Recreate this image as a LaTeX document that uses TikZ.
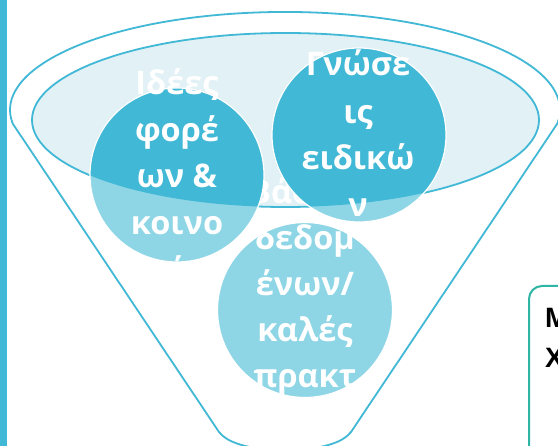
\documentclass[tikz,border=0pt]{standalone}
\usepackage{fontspec}
\newfontfamily\circfont{Open Sans}
\newfontfamily\boxfont{Liberation Sans}
\definecolor{cyanD}{HTML}{41B8D5}
\definecolor{cyanL}{HTML}{8ED6E6}
\definecolor{ellfill}{HTML}{E2F1F6}
\definecolor{tealB}{HTML}{2EB5A3}
\tikzset{
  funnelline/.style={draw=cyanD, line width=1.8pt},
  ctext/.style={text=white, font=\circfont\bfseries\fontsize{32.5}{38}\selectfont, anchor=base, inner sep=0pt},
  btext/.style={text=black, font=\boxfont\bfseries\fontsize{28}{34}\selectfont, anchor=base west, inner sep=0pt},
  circrim/.style={draw=white, line width=1.2pt}
}
\begin{document}
\begin{tikzpicture}[x=1pt,y=-1pt]
\clip (0,0) rectangle (558,446);
\fill[white] (0,0) rectangle (558,446);
% left bar
\fill[cyanD] (0,0) rectangle (7,446);
% outer funnel
\draw[funnelline] (219,432) -- (12.7,123.6)
  arc[start angle=188, end angle=-8, x radius=275pt, y radius=98pt]
  -- (351,432) .. controls (342,443) and (325,448) .. (285,452)
  .. controls (245,448) and (228,443) .. (219,432);
% inner ellipse
\coordinate (ell) at (285.5,120);
\filldraw[fill=ellfill, draw=cyanD, line width=1.8pt] (ell) ellipse[x radius=253.5pt, y radius=87pt];
% circle centres
\coordinate (c1) at (177,175);
\coordinate (c2) at (359,135);
\coordinate (c3) at (305,310);
% circle 3
\fill[cyanL] (c3) circle[radius=87.5pt];
\begin{scope}
\clip (ell) ellipse[x radius=253.5pt, y radius=87pt];
\fill[cyanD] (c3) circle[radius=87.5pt];
\end{scope}
\draw[circrim] (c3) circle[radius=87.5pt];
\node[ctext] (t31) at (305,204) {Βάσεις};
\node[ctext] (t32) at (305,250) {δεδομ};
\node[ctext] (t33) at (305,296) {ένων/};
\node[ctext] (t34) at (305,342) {καλές};
\node[ctext] (t35) at (305,388) {πρακτ};
% circle 1
\fill[cyanL] (c1) circle[radius=87pt];
\begin{scope}
\clip (ell) ellipse[x radius=253.5pt, y radius=87pt];
\fill[cyanD] (c1) circle[radius=87pt];
\end{scope}
\draw[circrim] (c1) circle[radius=87pt];
\node[ctext] (t11) at (177,95) {Ιδέες};
\node[ctext] (t12) at (177,142) {φορέ};
\node[ctext] (t13) at (177,188) {ων \&};
\node[ctext] (t14) at (177,235) {κοινο};
\node[ctext] (t15) at (177,282) {ύ};
% circle 2
\fill[cyanL] (c2) circle[radius=87pt];
\begin{scope}
\clip (ell) ellipse[x radius=253.5pt, y radius=87pt];
\fill[cyanD] (c2) circle[radius=87pt];
\end{scope}
\draw[circrim] (c2) circle[radius=87pt];
\node[ctext] (t21) at (358,76) {Γνώσε};
\node[ctext] (t22) at (358,124) {ις};
\node[ctext] (t23) at (358,170) {ειδικώ};
\node[ctext] (t24) at (358,217) {ν};
% right box
\draw[draw=tealB, line width=2pt, rounded corners=13pt] (529,286) rectangle (620,520);
\node[btext] (b1) at (545,328) {Μ};
\node[btext] (b2) at (545,368) {Χ};
\end{tikzpicture}
\end{document}
